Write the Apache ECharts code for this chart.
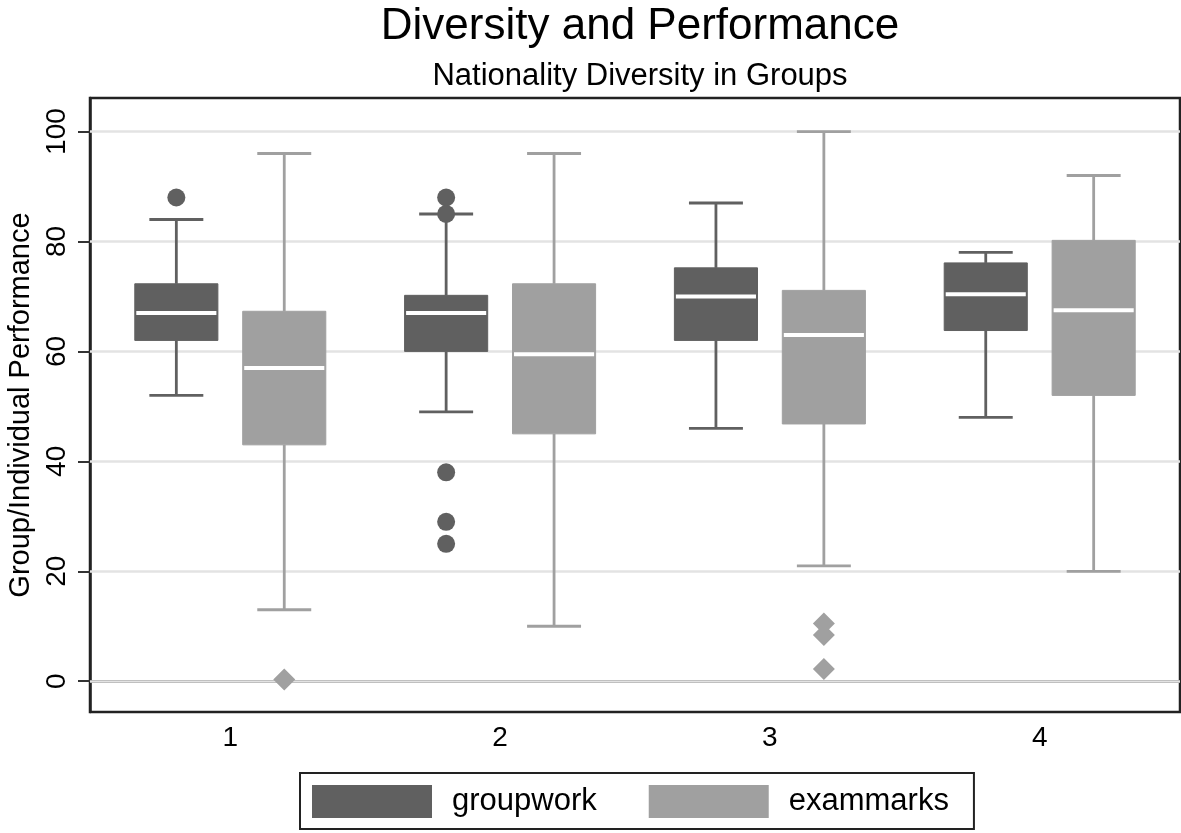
<!DOCTYPE html>
<html>
<head>
<meta charset="utf-8">
<script src="https://cdn.jsdelivr.net/npm/echarts@6/dist/echarts.min.js"></script>
<style>
html,body{margin:0;padding:0;background:#fff;}
#chart{width:1181px;height:833px;}
</style>
</head>
<body>
<div id="chart"></div>
<script>
// ---- data ----
const categories = ['1', '2', '3', '4'];
const seriesNames = ['groupwork', 'exammarks'];
// [lower whisker, Q1, median, Q3, upper whisker] per category
const groupworkStats = [
  [52, 62, 67, 72.3, 84],
  [49, 60, 67, 70.2, 85],
  [46, 62, 70, 75.2, 87],
  [48, 63.8, 70.4, 76.1, 78]
];
const exammarksStats = [
  [13, 43, 57, 67.3, 96],
  [10, 45, 59.5, 72.3, 96],
  [21, 46.8, 63, 71.1, 100],
  [20, 52, 67.5, 80.2, 92]
];
// outliers: [category label, value]
const groupworkOutliers = [['1', 88], ['2', 88], ['2', 85], ['2', 38], ['2', 29], ['2', 25]];
const exammarksOutliers = [['1', 0.3], ['3', 10.5], ['3', 8.4], ['3', 2.2]];
const yTicks = [0, 20, 40, 60, 80, 100];
const titleText = 'Diversity and Performance';
const subtitleText = 'Nationality Diversity in Groups';
const yAxisTitle = 'Group/Individual Performance';

// ---- styles ----
const DARK = '#606060';
const LIGHT = '#a0a0a0';
const FONT = '"Liberation Sans", Arial, Helvetica, sans-serif';

function catPos(label) { return categories.indexOf(label) + 1; }

function boxData(stats) {
  return stats.map((s, i) => [i + 1].concat(s));
}
function outlierData(list) {
  return list.map(o => [catPos(o[0]), o[1]]);
}

function makeBoxRenderer(offset, color) {
  return function (params, api) {
    const x = api.value(0) + offset;
    const unit = api.size([1, 0])[0];
    const bw = unit * 0.308, cw = unit * 0.2;
    const pLo = api.coord([x, api.value(1)]);
    const pQ1 = api.coord([x, api.value(2)]);
    const pMed = api.coord([x, api.value(3)]);
    const pQ3 = api.coord([x, api.value(4)]);
    const pHi = api.coord([x, api.value(5)]);
    const cx = pMed[0];
    const ls = { stroke: color, lineWidth: 2.8 };
    return {
      type: 'group',
      children: [
        { type: 'line', shape: { x1: cx, y1: pQ3[1], x2: cx, y2: pHi[1] }, style: ls },
        { type: 'line', shape: { x1: cx - cw / 2, y1: pHi[1], x2: cx + cw / 2, y2: pHi[1] }, style: ls },
        { type: 'line', shape: { x1: cx, y1: pQ1[1], x2: cx, y2: pLo[1] }, style: ls },
        { type: 'line', shape: { x1: cx - cw / 2, y1: pLo[1], x2: cx + cw / 2, y2: pLo[1] }, style: ls },
        { type: 'rect', shape: { x: cx - bw / 2, y: pQ3[1], width: bw, height: pQ1[1] - pQ3[1] }, style: { fill: color, stroke: color, lineWidth: 1 } },
        { type: 'line', shape: { x1: cx - bw / 2 + 1.5, y1: pMed[1], x2: cx + bw / 2 - 1.5, y2: pMed[1] }, style: { stroke: '#fff', lineWidth: 4 } }
      ]
    };
  };
}

function makeOutlierRenderer(offset, color, shape) {
  return function (params, api) {
    const p = api.coord([api.value(0) + offset, api.value(1)]);
    if (shape === 'circle') {
      return { type: 'circle', shape: { cx: p[0], cy: p[1], r: 9 }, style: { fill: color } };
    }
    const h = 11;
    return { type: 'polygon', shape: { points: [[p[0], p[1] - h], [p[0] + h, p[1]], [p[0], p[1] + h], [p[0] - h, p[1]]] }, style: { fill: color } };
  };
}

const chart = echarts.init(document.getElementById('chart'), null, { renderer: 'canvas' });
const option = {
  backgroundColor: '#fff',
  animation: false,
  textStyle: { fontFamily: FONT },
  title: [
    { text: titleText, left: 635, top: 0, textAlign: 'center', textStyle: { fontSize: 44, fontWeight: 'normal', color: '#000', fontFamily: FONT } },
    { text: subtitleText, left: 635, top: 56, textAlign: 'center', textStyle: { fontSize: 31, fontWeight: 'normal', color: '#000', fontFamily: FONT } }
  ],
  grid: { left: 90, right: 1, top: 98, bottom: 121, show: true, borderColor: '#222', borderWidth: 2.5, backgroundColor: '#fff', containLabel: false, outerBoundsMode: 'none' },
  legend: {
    data: seriesNames,
    left: 300, top: 773,
    orient: 'horizontal',
    padding: [12, 25, 11, 12],
    itemGap: 52,
    itemWidth: 120, itemHeight: 33,
    icon: 'rect',
    borderColor: '#222', borderWidth: 2,
    textStyle: { fontSize: 31, color: '#000', fontFamily: FONT, padding: [0, 0, 0, 15] }
  },
  xAxis: {
    type: 'value',
    min: 0.48, max: 4.52,
    axisLine: { show: true, lineStyle: { color: '#222', width: 2.5 } },
    axisTick: { show: false },
    splitLine: { show: false },
    axisLabel: {
      customValues: categories.map((c, i) => i + 1),
      formatter: v => categories[Math.round(v) - 1],
      fontSize: 28, color: '#000', margin: 12, fontFamily: FONT
    }
  },
  yAxis: {
    type: 'value',
    min: -5.6, max: 106.1,
    name: yAxisTitle,
    nameLocation: 'middle',
    nameGap: 46,
    nameTextStyle: { fontSize: 29, color: '#000', fontFamily: FONT },
    axisLine: { show: true, lineStyle: { color: '#222', width: 2.5 } },
    axisTick: { show: true, customValues: yTicks, length: 12, lineStyle: { color: '#333', width: 2 } },
    splitLine: { show: false },
    axisLabel: { customValues: yTicks, rotate: 90, fontSize: 28, color: '#000', margin: 19, fontFamily: FONT }
  },
  series: [
    {
      type: 'line', name: 'grid', data: [], z: 0, silent: true,
      markLine: {
        silent: true, symbol: 'none', animation: false, z: 1,
        label: { show: false },
        lineStyle: { color: '#e3e3e3', width: 2.5, type: 'solid' },
        data: yTicks.map(v => ({ yAxis: v }))
      }
    },
    { type: 'custom', name: seriesNames[0], data: boxData(groupworkStats), renderItem: makeBoxRenderer(-0.2, DARK), itemStyle: { color: DARK }, z: 3 },
    { type: 'custom', name: seriesNames[1], data: boxData(exammarksStats), renderItem: makeBoxRenderer(0.2, LIGHT), itemStyle: { color: LIGHT }, z: 3 },
    { type: 'custom', name: 'groupwork outliers', data: outlierData(groupworkOutliers), renderItem: makeOutlierRenderer(-0.2, DARK, 'circle'), z: 4 },
    { type: 'custom', name: 'exammarks outliers', data: outlierData(exammarksOutliers), renderItem: makeOutlierRenderer(0.2, LIGHT, 'diamond'), z: 4 }
  ]
};
chart.setOption(option);
</script>
</body>
</html>
